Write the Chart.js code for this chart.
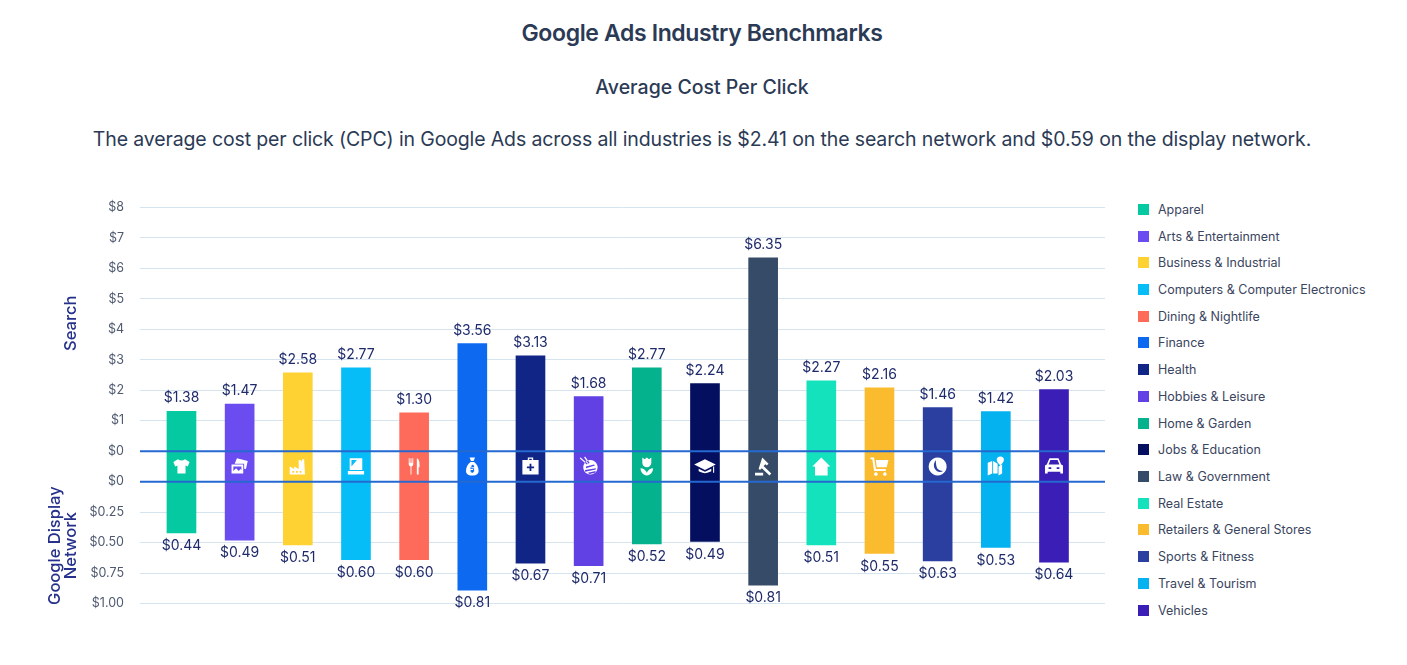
<!DOCTYPE html>
<html>
<head>
<meta charset="utf-8">
<title>Google Ads Industry Benchmarks</title>
<script src="https://cdn.jsdelivr.net/npm/chart.js@4"></script>
<style>
  html, body { margin: 0; padding: 0; background: #fff; }
  body { width: 1407px; height: 665px; position: relative; overflow: hidden; font-family: Inter, sans-serif; color: #2b3a55; }
  .linha { position: absolute; left: 0; width: 1404px; text-align: center; white-space: nowrap; }
  #titulo { top: 18px; font-size: 23px; line-height: 30px; font-weight: 600; letter-spacing: -0.37px; }
  #subtitulo { top: 74px; font-size: 19.500px; line-height: 26px; font-weight: 500; }
  #descricao { top: 125px; font-size: 19.500px; line-height: 28px; font-weight: 400; letter-spacing: -0.13px; }
  #grafico { position: absolute; left: 0; top: 184px; }
  #legenda { position: absolute; left: 1138px; top: 196px; margin: 0; padding: 0; list-style: none; }
  #legenda li { height: 26.73px; display: flex; align-items: center; font-size: 12.500px; color: #3a4560; white-space: nowrap; }
  #legenda span { width: 11px; height: 11px; margin-right: 9px; display: inline-block; }
</style>
</head>
<body>
<div id="titulo" class="linha">Google Ads Industry Benchmarks</div>
<div id="subtitulo" class="linha">Average Cost Per Click</div>
<div id="descricao" class="linha">The average cost per click (CPC) in Google Ads across all industries is $2.41 on the search network and $0.59 on the display network.</div>
<canvas id="grafico" width="1105" height="443"></canvas>
<ul id="legenda"></ul>

<script>
// ==========================
// Data
// ==========================
const categorias = ["Apparel", "Arts & Entertainment", "Business & Industrial", "Computers & Computer Electronics", "Dining & Nightlife", "Finance", "Health", "Hobbies & Leisure", "Home & Garden", "Jobs & Education", "Law & Government", "Real Estate", "Retailers & General Stores", "Sports & Fitness", "Travel & Tourism", "Vehicles"];
const cores = ["#05c9a0", "#6b4cf0", "#ffd233", "#06bdf8", "#ff6b5a", "#0d6af0", "#102585", "#6140e4", "#04b38d", "#040f60", "#364b68", "#14e2bd", "#fbbb2e", "#2a3fa0", "#03b2ee", "#3b1eb5"];

// printed values
const rotulosSearch = ["$1.38", "$1.47", "$2.58", "$2.77", "$1.30", "$3.56", "$3.13", "$1.68", "$2.77", "$2.24", "$6.35", "$2.27", "$2.16", "$1.46", "$1.42", "$2.03"];
const rotulosDisplay = ["$0.44", "$0.49", "$0.51", "$0.60", "$0.60", "$0.81", "$0.67", "$0.71", "$0.52", "$0.49", "$0.81", "$0.51", "$0.55", "$0.63", "$0.53", "$0.64"];

// bar ends as they are drawn in the picture (not always the same as the printed value)
const barrasSearch = [1.31, 1.55, 2.57, 2.74, 1.26, 3.53, 3.13, 1.79, 2.74, 2.22, 6.35, 2.31, 2.08, 1.43, 1.30, 2.02];
const barrasDisplay = [0.42, 0.48, 0.52, 0.64, 0.64, 0.89, 0.67, 0.69, 0.51, 0.49, 0.85, 0.52, 0.59, 0.65, 0.54, 0.66];

// tick labels from the bottom of the axis to the top
const rotulosEixo = ["$1.00", "$0.75", "$0.50", "$0.25", "$0", "$0", "$1", "$2", "$3", "$4", "$5", "$6", "$7", "$8"];

// ==========================
// Shared axis: search above 0, a one-step gap for the icons, display below it
// ==========================
const displayParaEixo = (v) => -1 - v * 4;

const icones = [
  "M8 4 3 7l2 5 2.500-1v9h9v-9l2.500 1 2-5-5-3q-4 3-8 0z",
  "M9 3l12 3-2 9-2-.5V9H6.500zM3 10h13v10H3zm2 2v5l3-3 3 3 2-2 1 1v-4z",
  "M3 21v-9l5 3v-3l5 3V5h2l1 2 1-3h2l1 17zm3-4v2h2v-2zm4 0v2h2v-2zm4 0v2h2v-2z",
  "M5 3h14v13H5zm2 2v7l6-7zM3 17h18v4H3z",
  "M6 3h1v5h1V3h1v5h1V3h1v7q0 2-2 2v9H8v-9q-2 0-2-2zM15 3q3 1 3 7v3h-1v8h-2z",
  "M9 2h6l-1.500 4h-3zM10 7h4c3 2 5 6 5 10 0 3-2 5-7 5s-7-2-7-5c0-4 2-8 5-10zm1 4v2h-1v2h3v1h-3v2h1v1h2v-1h1v-4h-3v-1h3v-2h-1v-1z",
  "M9 2h6v3h6v16H3V5h6zm1.500 1.500V5h3V3.500zM11 9v3H8v2h3v3h2v-3h3v-2h-3V9z",
  "M14 5a8 8 0 1 1-.01 0zM3 2l8 7-1 1-8-7zM8 1l5 7-1 1-5-7zM9 12l9-2 1 1-10 3zm-1 4 12-2v1.500L8 18zm3 3 9-2-1 2-6 1.500z",
  "M7 2l2.500 2L12 2l2.500 2L17 2v6a5 5 0 0 1-10 0zM5 14c3 0 6 2 7 5 1-3 4-5 7-5 0 4-3 8-7 8s-7-4-7-8z",
  "M12 4 24 10 12 16 0 10zM5 14.500v3q7 4 14 0v-3l-7 3.500zM21 12h1.200v7H21z",
  "M11 2l7 7-2 2-1.500-1.500-2 2L21 20l-2 2-8.500-8-2 2L7 14.500zM3 19h9v3H3z",
  "M12 2 22 12h-3v10H5V12H2z",
  "M2 2h4l2 13h11v2H6L4 4H2zM8 5h14l-2 8H9zM8 18.500a2 2 0 1 1-.01 0zM18 18.500a2 2 0 1 1-.01 0z",
  "M12 2a10 10 0 1 1-.01 0zm-2 3c-3 4-3 9 1 12 2 1.500 5 1.500 7 0-3 0-6-1-7-4-1-3-1-6-1-8z",
  "M3 8l5-2v14l-5 2zM9 6l5 3v11l-5-0zM15 12l4-2v10l-4 2zM17 1a4 4 0 0 1 4 4c0 2-2 4-4 6-2-2-4-4-4-6a4 4 0 0 1 4-4z",
  "M7 3h10l3 7 2 1v9h-3v-2H5v2H2v-9l2-1zm1 2-2 5h12l-2-5zM6 13v2h3v-2zm9 0v2h3v-2z",
].map((d) => new Path2D(d));

// ==========================
// Plugin: zero lines, icons, value labels, side labels
// ==========================
const extrasGrafico = {
  id: "extrasGrafico",
  afterDatasetsDraw(chart) {
    const { ctx, chartArea, scales } = chart;
    const { x, y } = scales;

    // the two blue zero lines run over the bars
    ctx.save();
    ctx.strokeStyle = "#2468d0";
    ctx.lineWidth = 2;
    [0, -1].forEach((v) => {
      const py = y.getPixelForValue(v);
      ctx.beginPath();
      ctx.moveTo(chartArea.left, py);
      ctx.lineTo(chartArea.right, py);
      ctx.stroke();
    });
    ctx.restore();

    // white icons in the gap
    categorias.forEach((c, i) => {
      ctx.save();
      ctx.translate(x.getPixelForValue(i), y.getPixelForValue(-0.5));
      ctx.scale(0.9, 0.9);
      ctx.translate(-12, -12);
      ctx.fillStyle = "#fff";
      ctx.fill(icones[i], "evenodd");
      ctx.restore();
    });

    // value labels
    ctx.save();
    ctx.font = "14px Inter, sans-serif";
    ctx.fillStyle = "#1f2a6b";
    ctx.textAlign = "center";
    ctx.textBaseline = "middle";
    categorias.forEach((c, i) => {
      const px = x.getPixelForValue(i);
      ctx.fillText(rotulosSearch[i], px, y.getPixelForValue(barrasSearch[i]) - 13);
      ctx.fillText(rotulosDisplay[i], px, y.getPixelForValue(displayParaEixo(barrasDisplay[i])) + 13);
    });
    ctx.restore();

    // rotated network names
    ctx.save();
    ctx.font = "500 16.500px Inter, sans-serif";
    ctx.fillStyle = "#25308a";
    ctx.textAlign = "center";
    ctx.textBaseline = "middle";
    const girado = (texto, px, valor) => {
      ctx.save();
      ctx.translate(px, y.getPixelForValue(valor));
      ctx.rotate(-Math.PI / 2);
      ctx.fillText(texto, 0, 0);
      ctx.restore();
    };
    girado("Search", 71, 4.2);
    girado("Google Display", 55, -3.1);
    girado("Network", 71, -3.1);
    ctx.restore();
  },
};

// ==========================
// Chart
// ==========================
new Chart(document.getElementById("grafico").getContext("2d"), {
  type: "bar",
  data: {
    datasets: [
      {
        data: categorias.map((c, i) => ({ x: i, y: [displayParaEixo(barrasDisplay[i]), barrasSearch[i]] })),
        backgroundColor: cores,
        barThickness: 29,
        borderSkipped: false,
      },
    ],
  },
  options: {
    responsive: false,
    animation: false,
    layout: { padding: { top: 9.800, bottom: 21 } },
    plugins: { legend: { display: false }, title: { display: false }, tooltip: { enabled: false } },
    scales: {
      x: { type: "linear", display: false, offset: false, min: -0.713, max: 15.877, grid: { display: false } },
      y: {
        min: -5,
        max: 8,
        afterFit: (escala) => { escala.width = 140; },
        border: { display: false },
        grid: { color: "#d5e4ef", lineWidth: 1, drawTicks: false },
        ticks: {
          stepSize: 1,
          padding: 16,
          color: "#4f5a70",
          font: { family: "Inter, sans-serif", size: 12.500 },
          callback: (v) => rotulosEixo[v + 5],
        },
      },
    },
  },
  plugins: [extrasGrafico],
});

// ==========================
// Legend
// ==========================
const legenda = document.getElementById("legenda");
categorias.forEach((c, i) => {
  const item = document.createElement("li");
  const caixa = document.createElement("span");
  caixa.style.background = cores[i];
  item.appendChild(caixa);
  item.appendChild(document.createTextNode(c));
  legenda.appendChild(item);
});
</script>
</body>
</html>
